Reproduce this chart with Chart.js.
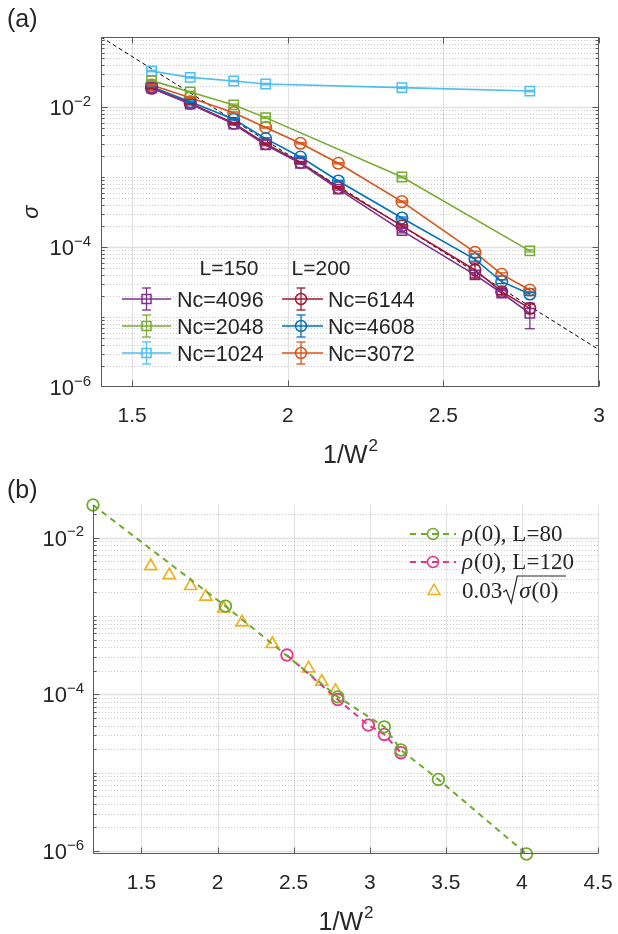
<!DOCTYPE html>
<html>
<head>
<meta charset="utf-8">
<script src="https://cdn.jsdelivr.net/npm/chart.js@4.4.1/dist/chart.umd.min.js"></script>
<style>
  body { margin: 0; background: #fff; width: 618px; height: 934px; overflow: hidden; position: relative; }
  .panel { position: absolute; left: 0; width: 618px; height: 467px; }
  #pa { top: 0; }
  #pb { top: 467px; }
</style>
</head>
<body>
<div class="panel" id="pa"><canvas id="chartA" width="618" height="467"></canvas></div>
<div class="panel" id="pb"><canvas id="chartB" width="618" height="467"></canvas></div>
<script>
// ---------- panel (a): sigma vs 1/W^2 ----------
const xFull   = [1.5625, 1.6866, 1.8264, 1.929, 2.0408, 2.1626, 2.3669, 2.6015, 2.6874, 2.7778];
const xSparse = [1.5625, 1.6866, 1.8264, 1.929, 2.3669, 2.7778];

// L=150
const nc4096 = [0.0187, 0.0110, 0.0057, 0.00287, 0.00157, 6.7e-4, 1.71e-4, 4.0e-5, 2.2e-5, 1.13e-5];
const err4096 = [0.0004, 0.0003, 0.00015, 0.00008, 0.00005, 0.00002, 0.000012, 0.000003, 0.000002, 0.0000045];
const nc2048 = [0.0238, 0.0164, 0.0107, 0.00705, 0.00100, 8.8e-5];
const err2048 = [0.0005, 0.0004, 0.0003, 0.0002, 0.00003, 0.000003];
const nc1024 = [0.0327, 0.0265, 0.0235, 0.0213, 0.0189, 0.0169];
const err1024 = [0.0008, 0.0006, 0.0005, 0.0005, 0.0004, 0.0004];
// L=200
const nc6144 = [0.0185, 0.0113, 0.00585, 0.00299, 0.00162, 7.05e-4, 2.0e-4, 4.7e-5, 2.3e-5, 1.33e-5];
const err6144 = [0.0004, 0.0003, 0.00015, 0.00008, 0.00005, 0.00002, 0.000008, 0.000012, 0.000002, 0.000002];
const nc4608 = [0.0195, 0.0119, 0.00667, 0.00353, 0.00193, 8.77e-4, 2.6e-4, 6.67e-5, 3.2e-5, 2.13e-5];
const err4608 = [0.0004, 0.0003, 0.00015, 0.0001, 0.00005, 0.00002, 0.000008, 0.000004, 0.000002, 0.000001];
const nc3072 = [0.0206, 0.0136, 0.0083, 0.0051, 0.00303, 0.00157, 4.45e-4, 8.4e-5, 4.07e-5, 2.43e-5];
const err3072 = [0.0005, 0.0003, 0.0002, 0.0001, 0.00006, 0.00003, 0.00001, 0.000003, 0.000002, 0.000001];

// dashed guide line
const fitX = [1.4, 3.0];
const fitY = [0.1, 3.4e-6];

const xRangeA = [1.4, 3];
const yRangeA = [1e-6, 0.1];
const xTicksA = [1.5, 2, 2.5, 3];
const xTickLabelsA = ['1.5', '2', '2.5', '3'];
const yTickExpsA = [-2, -4, -6];
const legendHeadersA = ['L=150', 'L=200'];

// ---------- panel (b): rho(0) ----------
const rhoX80 = [1.1815, 2.052, 2.79, 3.096, 3.205, 3.451, 4.03];
const rho80  = [0.0262, 1.34e-3, 9.3e-5, 3.85e-5, 1.95e-5, 8.2e-6, 9.16e-7];
const rhoX120 = [2.456, 2.79, 2.991, 3.096, 3.205];
const rho120  = [3.18e-4, 8.6e-5, 4.05e-5, 3.08e-5, 1.8e-5];
const sigX    = [1.561, 1.683, 1.823, 1.923, 2.041, 2.161, 2.36, 2.598, 2.685, 2.775];
const sigRoot = [4.35e-3, 3.34e-3, 2.42e-3, 1.77e-3, 1.25e-3, 8.3e-4, 4.4e-4, 2.15e-4, 1.45e-4, 1.11e-4];

const xRangeB = [1.1815, 4.5];
const yRangeB = [9.16e-7, 0.0262];
const xTicksB = [1.5, 2, 2.5, 3, 3.5, 4, 4.5];
const xTickLabelsB = ['1.5', '2', '2.5', '3', '3.5', '4', '4.5'];
const yTickExpsB = [-2, -4, -6];

const TXT = '#262626';
const SANS = '"Liberation Sans", Arial, sans-serif';
const SERIF = '"Liberation Serif", "Times New Roman", serif';

const col = {
  purple: '#7E2F8E', green: '#77AC30', cyan: '#4DBEEE',
  red: '#A2142F', blue: '#0072BD', orange: '#D95319',
  bGreen: '#6EAA2C', bPink: '#E8338C', bYellow: '#EDB120'
};

function pts(xs, ys) {
  return xs.map((x, i) => ({ x: x, y: ys[i] }));
}

function series(label, xs, ys, errs, color, style) {
  return {
    label: label, data: pts(xs, ys), yerr: errs, showLine: true,
    borderColor: color, backgroundColor: color, borderWidth: 1.6,
    pointStyle: style, pointRadius: style === 'rect' ? 6.6 : 5.8,
    pointBorderColor: color, pointBackgroundColor: 'rgba(0,0,0,0)', pointBorderWidth: 1.5
  };
}

function seg(ctx, x1, y1, x2, y2) {
  ctx.beginPath(); ctx.moveTo(x1, y1); ctx.lineTo(x2, y2); ctx.stroke();
}

function logValues(min, max) {
  const out = [];
  for (let e = Math.floor(Math.log10(min)); e <= Math.ceil(Math.log10(max)); e++) {
    for (let k = 1; k <= 9; k++) {
      const v = k * Math.pow(10, e);
      if (v >= min * 0.9999 && v <= max * 1.0001) out.push({ v: v, k: k, e: e });
    }
  }
  return out;
}

function drawPow(ctx, xRight, gy, exp) {
  const base = '10', sup = '\u2212' + Math.abs(exp);
  ctx.font = '22px ' + SANS;
  const wb = ctx.measureText(base).width;
  ctx.font = '15px ' + SANS;
  const ws = ctx.measureText(sup).width;
  const x0 = xRight - ws - wb;
  ctx.textAlign = 'left';
  ctx.textBaseline = 'alphabetic';
  ctx.font = '22px ' + SANS;
  ctx.fillText(base, x0, gy + 8);
  ctx.font = '15px ' + SANS;
  ctx.fillText(sup, x0 + wb, gy - 1.5);
}

function drawMarker(ctx, style, x, y, color) {
  ctx.strokeStyle = color; ctx.lineWidth = 1.5; ctx.setLineDash([]);
  ctx.beginPath();
  if (style === 'rect') ctx.rect(x - 4.5, y - 4.5, 9, 9);
  else if (style === 'circle') ctx.arc(x, y, 5.5, 0, Math.PI * 2);
  else { ctx.moveTo(x, y - 6.8); ctx.lineTo(x + 6, y + 3.6); ctx.lineTo(x - 6, y + 3.6); ctx.closePath(); }
  ctx.stroke();
}

function makeAxes(cfg) {
  return {
    id: 'matlabAxes',
    beforeDatasetsDraw(chart) {
      const ctx = chart.ctx, a = chart.chartArea, xs = chart.scales.x, ys = chart.scales.y;
      ctx.save();
      // vertical grid
      ctx.strokeStyle = '#e0e0e0'; ctx.lineWidth = 1;
      cfg.xTicks.forEach(v => {
        const px = Math.round(xs.getPixelForValue(v)) + 0.5;
        if (cfg.box && px > a.right - 2) return;
        seg(ctx, px, a.top, px, a.bottom);
      });
      // horizontal log grid
      logValues(ys.min, ys.max).forEach(t => {
        const py = Math.round(ys.getPixelForValue(t.v)) + 0.5;
        const major = t.k === 1 && cfg.yExps.includes(t.e);
        if (major) {
          ctx.setLineDash([]); ctx.strokeStyle = '#e0e0e0'; ctx.lineWidth = 1.5;
        } else {
          ctx.setLineDash([1, 2]); ctx.strokeStyle = 'rgba(0,0,0,0.2)'; ctx.lineWidth = 1;
        }
        if (py < a.top + 1 || py > a.bottom - 1) return;
        seg(ctx, a.left, py, a.right, py);
      });
      ctx.restore();
    },
    afterDatasetsDraw(chart) {
      const ctx = chart.ctx, a = chart.chartArea, xs = chart.scales.x, ys = chart.scales.y;
      ctx.save();
      // error bars
      chart.data.datasets.forEach((ds, i) => {
        if (!ds.yerr) return;
        const meta = chart.getDatasetMeta(i);
        ctx.strokeStyle = ds.borderColor; ctx.lineWidth = 1.3; ctx.setLineDash([]);
        meta.data.forEach((p, j) => {
          const v = ds.data[j].y, e = ds.yerr[j];
          const y1 = ys.getPixelForValue(v + e), y2 = ys.getPixelForValue(v - e);
          seg(ctx, p.x, y1, p.x, y2);
          seg(ctx, p.x - 5, y1, p.x + 5, y1);
          seg(ctx, p.x - 5, y2, p.x + 5, y2);
        });
      });
      // axes lines
      ctx.setLineDash([]);
      ctx.strokeStyle = '#5a5a5a'; ctx.lineWidth = 1;
      const L = Math.round(a.left) + 0.5, R = Math.round(a.right) - 0.5;
      const T = Math.round(a.top) + 0.5, B = Math.round(a.bottom) - 0.5;
      seg(ctx, L, T, L, B + 0.5);
      seg(ctx, L - 0.5, B, R + 0.5, B);
      if (cfg.box) { seg(ctx, R, T, R, B); seg(ctx, L, T, R, T); }
      // ticks (inward)
      logValues(ys.min, ys.max).forEach(t => {
        const py = Math.round(ys.getPixelForValue(t.v)) + 0.5;
        if (py < a.top || py > a.bottom) return;
        const len = (t.k === 1 && cfg.yExps.includes(t.e)) ? 6 : 3;
        seg(ctx, L, py, L + len, py);
        if (cfg.box) seg(ctx, R, py, R - len, py);
      });
      cfg.xTicks.forEach(v => {
        const px = Math.round(xs.getPixelForValue(v)) + 0.5;
        seg(ctx, px, B, px, B - 6);
        if (cfg.box) seg(ctx, px, T, px, T + 6);
      });
      // tick labels
      ctx.fillStyle = TXT;
      ctx.font = '21px ' + SANS; ctx.textAlign = 'center'; ctx.textBaseline = 'alphabetic';
      cfg.xTicks.forEach((v, i) => {
        ctx.fillText(cfg.xLabels[i], xs.getPixelForValue(v), a.bottom + 35);
      });
      cfg.yExps.forEach(e => {
        drawPow(ctx, a.left - cfg.yLabelGap, ys.getPixelForValue(Math.pow(10, e)), e);
      });
      // x title 1/W^2
      ctx.font = '25px ' + SANS;
      const wt = ctx.measureText('1/W').width;
      ctx.font = '17px ' + SANS;
      const w2 = ctx.measureText('2').width;
      const cx = (a.left + a.right) / 2 - (wt + w2) / 2;
      ctx.textAlign = 'left';
      ctx.font = '25px ' + SANS; ctx.fillText('1/W', cx, a.bottom + 76);
      ctx.font = '17px ' + SANS; ctx.fillText('2', cx + wt + 1, a.bottom + 64);
      // panel tag
      ctx.font = '25px ' + SANS;
      ctx.fillText(cfg.tag, 7, cfg.tagY);
      if (cfg.extra) cfg.extra(ctx, chart);
      ctx.restore();
    }
  };
}

function legendA(ctx) {
  ctx.fillStyle = TXT;
  ctx.font = '21px ' + SANS; ctx.textAlign = 'center'; ctx.textBaseline = 'alphabetic';
  ctx.fillText(legendHeadersA[0], 229, 275);
  ctx.fillText(legendHeadersA[1], 321, 275);
  const rows = [299, 326, 353];
  const cols = [
    { x1: 122, x2: 171, m: 146.5, t: 177, items: dsA.slice(0, 3) },
    { x1: 282, x2: 323, m: 301, t: 328, items: dsA.slice(3, 6) }
  ];
  cols.forEach(c => {
    c.items.forEach((ds, i) => {
      const cy = rows[i];
      ctx.strokeStyle = ds.borderColor; ctx.setLineDash([]); ctx.lineWidth = 1.6;
      seg(ctx, c.x1, cy, c.x2, cy);
      ctx.lineWidth = 1.3;
      seg(ctx, c.m, cy - 11, c.m, cy + 11);
      seg(ctx, c.m - 4.5, cy - 11, c.m + 4.5, cy - 11);
      seg(ctx, c.m - 4.5, cy + 11, c.m + 4.5, cy + 11);
      drawMarker(ctx, ds.pointStyle, c.m, cy, ds.borderColor);
      ctx.fillStyle = TXT; ctx.textAlign = 'left'; ctx.font = '21.5px ' + SANS;
      ctx.fillText(ds.label, c.t, cy + 7.5);
    });
  });
  // sigma axis label
  ctx.save();
  ctx.translate(32, 212); ctx.rotate(-Math.PI / 2);
  ctx.font = 'italic 22px ' + SANS; ctx.textAlign = 'center'; ctx.fillStyle = TXT;
  ctx.fillText('\u03c3', 0, 6);
  ctx.restore();
}

function legendB(ctx) {
  const rows = [67, 95, 124];
  [dsB[0], dsB[1]].forEach((ds, i) => {
    const cy = rows[i];
    ctx.strokeStyle = ds.borderColor; ctx.lineWidth = 2; ctx.setLineDash([6, 5]);
    seg(ctx, 410, cy, 456, cy);
    drawMarker(ctx, 'circle', 433, cy, ds.borderColor);
  });
  drawMarker(ctx, 'triangle', 434, rows[2], dsB[2].borderColor);
  ctx.fillStyle = TXT; ctx.textAlign = 'left'; ctx.textBaseline = 'alphabetic';
  const labels = [', L=80', ', L=120'];
  labels.forEach((s, i) => {
    const cy = rows[i];
    ctx.font = 'italic 23px ' + SERIF;
    ctx.fillText('\u03c1', 462, cy + 7);
    const w = ctx.measureText('\u03c1').width;
    ctx.font = '23px ' + SERIF;
    ctx.fillText('(0)' + s, 463 + w, cy + 7);
  });
  const cy = rows[2];
  ctx.font = '23px ' + SERIF;
  ctx.fillText('0.03', 462, cy + 7);
  const w = ctx.measureText('0.03').width;
  const rx = 462 + w + 1;
  ctx.strokeStyle = TXT; ctx.lineWidth = 1.2; ctx.setLineDash([]);
  ctx.beginPath();
  ctx.moveTo(rx, cy + 1); ctx.lineTo(rx + 3, cy - 1); ctx.lineTo(rx + 8, cy + 12);
  ctx.lineTo(rx + 14, cy - 15); ctx.lineTo(566, cy - 15);
  ctx.stroke();
  ctx.font = 'italic 23px ' + SERIF;
  ctx.fillText('\u03c3', rx + 16, cy + 7);
  const ws = ctx.measureText('\u03c3').width;
  ctx.font = '23px ' + SERIF;
  ctx.fillText('(0)', rx + 17 + ws, cy + 7);
}

const dsA = [
  series('Nc=4096', xFull, nc4096, err4096, col.purple, 'rect'),
  series('Nc=2048', xSparse, nc2048, err2048, col.green, 'rect'),
  series('Nc=1024', xSparse, nc1024, err1024, col.cyan, 'rect'),
  series('Nc=6144', xFull, nc6144, err6144, col.red, 'circle'),
  series('Nc=4608', xFull, nc4608, err4608, col.blue, 'circle'),
  series('Nc=3072', xFull, nc3072, err3072, col.orange, 'circle'),
  { label: 'fit', data: pts(fitX, fitY), showLine: true, borderColor: '#000', borderWidth: 1,
    borderDash: [4, 3], pointRadius: 0 }
];

const dsB = [
  { label: '\u03c1(0), L=80', data: pts(rhoX80, rho80), showLine: true, borderColor: col.bGreen,
    borderWidth: 2, borderDash: [6, 5], pointStyle: 'circle', pointRadius: 5.8,
    pointBorderColor: col.bGreen, pointBackgroundColor: 'rgba(0,0,0,0)', pointBorderWidth: 1.8, clip: false },
  { label: '\u03c1(0), L=120', data: pts(rhoX120, rho120), showLine: true, borderColor: col.bPink,
    borderWidth: 2, borderDash: [6, 5], pointStyle: 'circle', pointRadius: 5.8,
    pointBorderColor: col.bPink, pointBackgroundColor: 'rgba(0,0,0,0)', pointBorderWidth: 1.8, clip: false },
  { label: '0.03 sqrt(sigma(0))', data: pts(sigX, sigRoot), showLine: false, borderColor: col.bYellow,
    pointStyle: 'triangle', pointRadius: 7, pointBorderColor: col.bYellow,
    pointBackgroundColor: 'rgba(0,0,0,0)', pointBorderWidth: 1.7, clip: false }
];

function options(xr, yr, pad, leftW) {
  return {
    responsive: false, animation: false, events: [],
    layout: { padding: pad },
    plugins: { legend: { display: false }, tooltip: { enabled: false } },
    scales: {
      x: { type: 'linear', min: xr[0], max: xr[1], afterFit: s => { s.height = 80; },
           ticks: { display: false }, grid: { display: false }, border: { display: false } },
      y: { type: 'logarithmic', min: yr[0], max: yr[1], afterFit: s => { s.width = leftW; },
           ticks: { display: false }, grid: { display: false }, border: { display: false } }
    }
  };
}

new Chart(document.getElementById('chartA'), {
  type: 'scatter',
  data: { datasets: dsA },
  options: options(xRangeA, yRangeA, { top: 37, right: 19, left: 0, bottom: 0 }, 101),
  plugins: [makeAxes({ xTicks: xTicksA, xLabels: xTickLabelsA, yExps: yTickExpsA, box: true,
    yLabelGap: 10, tag: '(a)', tagY: 27, extra: legendA })]
});

new Chart(document.getElementById('chartB'), {
  type: 'scatter',
  data: { datasets: dsB },
  options: options(xRangeB, yRangeB, { top: 38, right: 20, left: 0, bottom: 0 }, 93),
  plugins: [makeAxes({ xTicks: xTicksB, xLabels: xTickLabelsB, yExps: yTickExpsB, box: false,
    yLabelGap: 9, tag: '(b)', tagY: 31, extra: legendB })]
});
</script>
</body>
</html>
